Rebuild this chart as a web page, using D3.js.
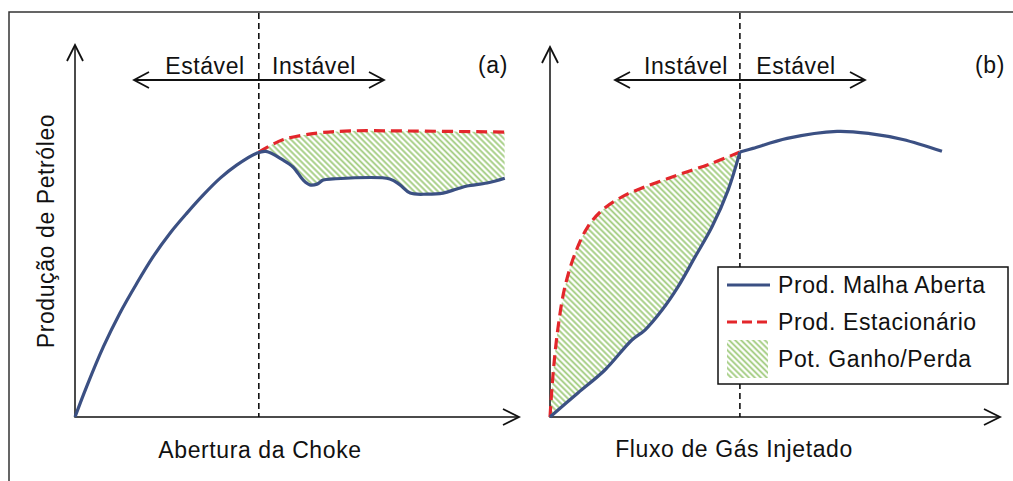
<!DOCTYPE html>
<html>
<head>
<meta charset="utf-8">
<script src="https://cdn.jsdelivr.net/npm/d3@7"></script>
<style>
  body { margin: 0; background: #fff; }
  text { font-family: "Liberation Sans", Arial, sans-serif; fill: #111; }
</style>
</head>
<body>
<div id="chart"></div>
<script>
// panel (a): Abertura da Choke (x) vs Produção (y), arbitrary units 0..100
const blueA = [[0,0],[2.6,8.1],[6.4,18.9],[10.1,27.9],[13.9,35.9],[17.6,43.1],[21.4,49.4],[25.2,54.8],
  [28.9,59.7],[32.7,64.2],[36.4,67.7],[40.9,70.9],[43.0,71.4],
  [46.8,69.1],[49.1,67.2],[51.4,63.7],[52.9,62.4],[54.5,62.6],[55.9,63.7],[58.1,64.0],[70.9,64.0],
  [73.2,62.4],[75.5,60.2],[79.3,59.9],[82.9,60.2],[86.0,61.3],[88.3,62.1],[92.8,62.9],[96.8,64.2]]
const redA = [[41.4,71.2],[46.8,74.5],[54.5,76.3],[61.9,76.9],[73.2,76.9],[96.8,76.6]]
const splitA = 41.4

// panel (b): Fluxo de Gás Injetado (x) vs Produção (y)
const blueBunstable = [[0,0],[6.2,6.5],[12.2,12.7],[18.2,20.8],[21.1,23.5],[24.9,28.9],[28.4,35.1],
  [32.2,43.2],[36.0,51.4],[39.6,61.4],[42.2,71.6]]
const blueBstable = [[42.2,71.6],[45.1,72.6],[52.7,75.3],[63.8,77.2],[71.1,76.6],[78.4,75.0],[87.1,71.8]]
const redB = [[0,0],[0.7,11.9],[1.8,24.3],[3.3,35.1],[5.6,44.3],[8.4,51.4],[11.6,55.9],[16.0,59.5],
  [21.1,62.2],[28.4,65.4],[36.0,68.6],[42.2,71.6]]
const splitB = 42.2

const legendLabels = ["Prod. Malha Aberta", "Prod. Estacionário", "Pot. Ganho/Perda"]

const W = 1013, H = 481
const blue = "#3b5083", red = "#e3262b", green = "#9fcb7c"
const curve = d3.curveCatmullRom.alpha(0.5)

const svg = d3.select("#chart").append("svg")
    .attr("width", W)
    .attr("height", H)

const defs = svg.append("defs")
defs.append("pattern")
    .attr("id", "hatch")
    .attr("patternUnits", "userSpaceOnUse")
    .attr("width", 4.2).attr("height", 4.2)
    .attr("patternTransform", "rotate(-45)")
  .append("line")
    .attr("x1", 2.1).attr("y1", 0).attr("x2", 2.1).attr("y2", 4.2)
    .attr("stroke", green).attr("stroke-width", 1.8)

// frame
svg.append("path")
    .attr("d", "M9," + H + "V12H" + W)
    .attr("fill", "none").attr("stroke", "#333").attr("stroke-width", 1.5)

function arrowAxes(g, x, y) {
  let x0 = x.range()[0], x1 = x.range()[1], y0 = y.range()[0], y1 = y.range()[1]
  g.append("path")
      .attr("d", "M" + x0 + "," + y1 + "V" + y0 + "H" + x1)
      .attr("fill", "none").attr("stroke", "#111").attr("stroke-width", 1.5)
  g.append("path")
      .attr("d", "M" + (x0 - 8) + "," + (y1 + 16) + "L" + x0 + "," + y1 + "L" + (x0 + 8) + "," + (y1 + 16))
      .attr("fill", "none").attr("stroke", "#111").attr("stroke-width", 1.8)
  g.append("path")
      .attr("d", "M" + (x1 - 16) + "," + (y0 - 8) + "L" + x1 + "," + y0 + "L" + (x1 - 16) + "," + (y0 + 8))
      .attr("fill", "none").attr("stroke", "#111").attr("stroke-width", 1.8)
}

function hArrow(g, xl, xr, yy) {
  g.append("path")
      .attr("d", "M" + xl + "," + yy + "H" + xr +
        "M" + (xl + 15) + "," + (yy - 8) + "L" + xl + "," + yy + "L" + (xl + 15) + "," + (yy + 8) +
        "M" + (xr - 15) + "," + (yy - 8) + "L" + xr + "," + yy + "L" + (xr - 15) + "," + (yy + 8))
      .attr("fill", "none").attr("stroke", "#111").attr("stroke-width", 1.8)
}

function label(g, x, y, txt, anchor) {
  return g.append("text")
      .attr("x", x).attr("y", y)
      .attr("text-anchor", anchor || "middle")
      .attr("font-size", 23)
      .attr("letter-spacing", 0.6)
      .text(txt)
}

function hatchBetween(g, id, x, y, upper, lower) {
  // area under the upper curve is the clip, area above the lower curve is filled
  let clipArea = d3.area().x(d => x(d[0])).y0(y(0)).y1(d => y(d[1])).curve(curve)
  g.append("clipPath").attr("id", id)
    .append("path").attr("d", clipArea(upper))
  let fillArea = d3.area().x(d => x(d[0])).y0(y(100)).y1(d => y(d[1])).curve(curve)
  g.append("path")
      .attr("d", fillArea(lower))
      .attr("fill", "url(#hatch)")
      .attr("clip-path", "url(#" + id + ")")
}

function drawLine(g, x, y, data, color, dash) {
  let line = d3.line().x(d => x(d[0])).y(d => y(d[1])).curve(curve)
  g.append("path")
      .attr("d", line(data))
      .attr("fill", "none")
      .attr("stroke", color)
      .attr("stroke-width", 3.2)
      .attr("stroke-dasharray", dash || null)
}

// ---- panel a
const xa = d3.scaleLinear().domain([0, 100]).range([75, 519])
const ya = d3.scaleLinear().domain([0, 100]).range([417, 45])
const ga = svg.append("g")
hatchBetween(ga, "clipA", xa, ya, redA, blueA.filter(d => d[0] >= splitA - 1))
ga.append("line")
    .attr("x1", xa(splitA)).attr("x2", xa(splitA)).attr("y1", 13).attr("y2", ya(0))
    .attr("stroke", "#111").attr("stroke-width", 1.6).attr("stroke-dasharray", "6,4")
arrowAxes(ga, xa, ya)
drawLine(ga, xa, ya, redA, red, "11,6")
drawLine(ga, xa, ya, blueA, blue)
hArrow(ga, 134, 384, 80)
label(ga, 205, 74, "Estável")
label(ga, 314, 74, "Instável")
label(ga, 493, 73, "(a)")
label(ga, 260, 458, "Abertura da Choke")
label(ga, 0, 0, "Produção de Petróleo")
    .attr("transform", "translate(54,231) rotate(-90)")

// ---- panel b
const xb = d3.scaleLinear().domain([0, 100]).range([550, 1000])
const yb = d3.scaleLinear().domain([0, 100]).range([417, 47])
const gb = svg.append("g")
hatchBetween(gb, "clipB", xb, yb, redB, blueBunstable)
gb.append("line")
    .attr("x1", xb(splitB)).attr("x2", xb(splitB)).attr("y1", 13).attr("y2", yb(0))
    .attr("stroke", "#111").attr("stroke-width", 1.6).attr("stroke-dasharray", "6,4")
arrowAxes(gb, xb, yb)
drawLine(gb, xb, yb, redB, red, "11,6")
drawLine(gb, xb, yb, blueBunstable, blue)
drawLine(gb, xb, yb, blueBstable, blue)
hArrow(gb, 615, 865, 80)
label(gb, 686, 74, "Instável")
label(gb, 796, 74, "Estável")
label(gb, 990, 73, "(b)")
label(gb, 734, 457, "Fluxo de Gás Injetado")

// ---- legend
const lg = svg.append("g")
lg.append("rect")
    .attr("x", 718).attr("y", 267).attr("width", 290).attr("height", 117)
    .attr("fill", "#fff").attr("stroke", "#111").attr("stroke-width", 1.5)
lg.append("line").attr("x1", 727).attr("x2", 770).attr("y1", 285).attr("y2", 285)
    .attr("stroke", blue).attr("stroke-width", 3.2)
lg.append("line").attr("x1", 727).attr("x2", 770).attr("y1", 322).attr("y2", 322)
    .attr("stroke", red).attr("stroke-width", 3.2).attr("stroke-dasharray", "10,5")
lg.append("rect").attr("x", 727).attr("y", 340).attr("width", 41).attr("height", 38)
    .attr("fill", "url(#hatch)")
legendLabels.forEach((t, i) => {
  label(lg, 778, 293 + i * 37, t, "start")
})
</script>
</body>
</html>
